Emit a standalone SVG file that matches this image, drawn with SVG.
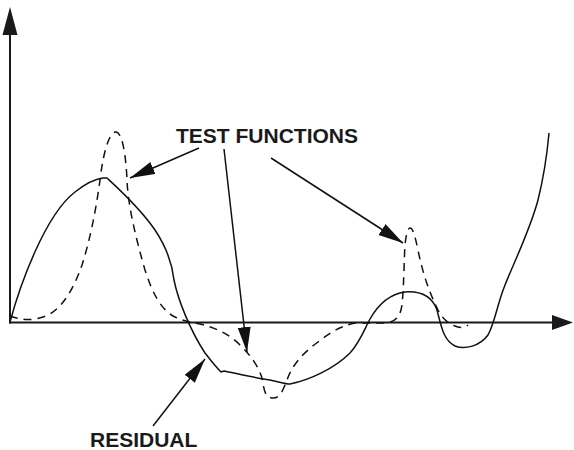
<svg xmlns="http://www.w3.org/2000/svg" width="574" height="450" viewBox="0 0 574 450">
<style>
.axis{stroke:#1a1a1a;stroke-width:2;fill:none}
.head{fill:#1a1a1a;stroke:none}
.curve{stroke:#111;stroke-width:1.5;fill:none;stroke-linejoin:round}
.dash{stroke-dasharray:8,6}
.lead{stroke:#111;stroke-width:1.5;fill:none}
.lbl{font-family:"Liberation Sans",Arial,sans-serif;font-weight:bold;font-size:21px;fill:#1a1a1a}
</style>
<defs>
<marker id="ah" markerUnits="userSpaceOnUse" markerWidth="26" markerHeight="14" refX="25" refY="6.5" orient="auto">
<path d="M0,0 L25,6.5 L0,13 z" fill="#111"/>
</marker>
</defs>
<rect width="574" height="450" fill="#fff"/>
<g id="axes">
<line class="axis" x1="10" y1="30" x2="10" y2="323.5"/>
<line class="axis" x1="9" y1="322.5" x2="555" y2="322.5"/>
<polygon class="head" points="10,7 17.5,35 2.5,35"/>
<polygon class="head" points="573,322.5 552,315 552,330"/>
</g>
<g id="residual">
<path class="curve" d="M10,322 C20,285 45,215 75,192 C85,184 95,179 103,178 L107,178 C120,190 140,208 155,230 C165,245 172,262 174,280 C178,300 190,330 205,353 C212,362 217,368 221,372 L224,371 C240,374 255,378 270,380 C280,382 285,384 290,384 C310,380 335,368 350,353 C360,342 365,328 370,319 C378,305 390,294 405,292 C420,291 432,296 437,310 C441,325 443,340 455,346 C465,350 480,346 488,335 C495,322 497,305 505,285 C515,260 530,230 538,200 C543,180 547,155 549,133"/>
</g>
<g id="test-functions">
<path class="curve dash" d="M10,316 C20,320 35,322 50,314 C65,305 75,285 82,265 C90,240 96,210 100,180 C103,155 108,135 115,132 C122,130 126,155 127,180 C128,205 135,235 145,270 C152,292 160,308 173,316 C183,321 190,322 200,324 C215,328 228,333 240,345 C250,355 258,365 262,378 C264,388 264,397 272,398 C280,399 283,390 287,380 C291,368 300,355 318,342 C330,333 340,326 355,323 L385,323 C395,322 400,318 402,305 C404,285 404,260 405,245 C406,234 408,228 410,228 C413,228 415,236 418,250 C422,270 428,290 438,310 C443,320 450,325 458,327 C462,328 465,327 468,325"/>
</g>
<g id="label-test-functions">
<text class="lbl" x="176" y="143">TEST FUNCTIONS</text>
</g>
<g id="label-residual">
<text class="lbl" x="90" y="447">RESIDUAL</text>
</g>
<g id="connectors">
<line class="lead" x1="199" y1="148" x2="130" y2="178" marker-end="url(#ah)"/>
<line class="lead" x1="224" y1="149" x2="247" y2="352" marker-end="url(#ah)"/>
<line class="lead" x1="271" y1="158" x2="403" y2="243" marker-end="url(#ah)"/>
<line class="lead" x1="153" y1="426" x2="205" y2="359" marker-end="url(#ah)"/>
</g>
</svg>
